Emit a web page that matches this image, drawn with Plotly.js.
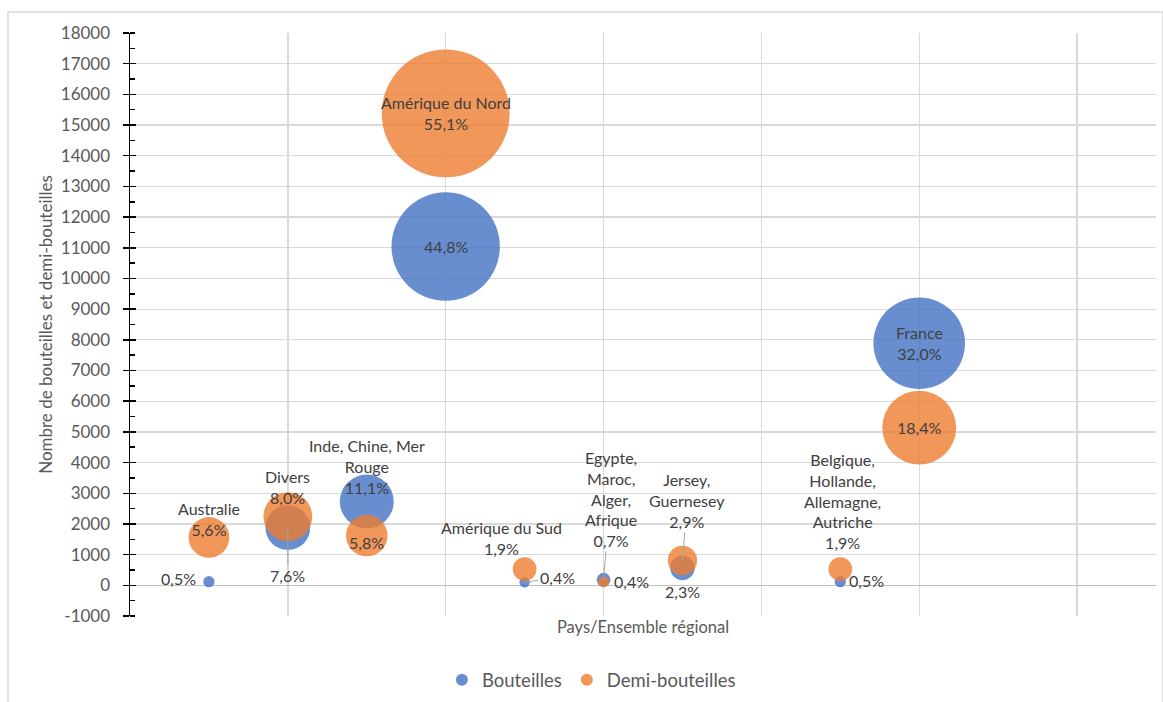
<!DOCTYPE html>
<html>
<head>
<meta charset="utf-8">
<script src="https://cdn.plot.ly/plotly-3.0.1.min.js"></script>
<style>html,body{margin:0;padding:0;background:#fff;}#chart{width:1163px;height:702px;}</style>
</head>
<body>
<div id="chart"></div>
<script>
// ---- data ----
var regions = ["Australie", "Divers", "Inde, Chine, Mer<br>Rouge", "Amérique du Nord", "Amérique du Sud",
               "Egypte,<br>Maroc,<br>Alger,<br>Afrique", "Jersey,<br>Guernesey",
               "Belgique,<br>Hollande,<br>Allemagne,<br>Autriche", "France"];
var xPos = [1, 2, 3, 4, 5, 6, 7, 9, 10];
var bouteilles = [120, 1880, 2730, 11040, 100, 180, 570, 120, 7890];
var demiBouteilles = [1560, 2240, 1620, 15380, 530, 110, 810, 530, 5140];
var pctBouteilles = ["0,5%", "7,6%", "11,1%", "44,8%", "0,4%", "0,7%", "2,3%", "0,5%", "32,0%"];
var pctDemi = ["5,6%", "8,0%", "5,8%", "55,1%", "1,9%", "0,4%", "2,9%", "1,9%", "18,4%"];
var yTicks = [-1000, 0, 1000, 2000, 3000, 4000, 5000, 6000, 7000, 8000, 9000, 10000,
              11000, 12000, 13000, 14000, 15000, 16000, 17000, 18000];
var yTickText = ["-1000", "0", "1000", "2000", "3000", "4000", "5000", "6000", "7000", "8000", "9000", "10000",
                 "11000", "12000", "13000", "14000", "15000", "16000", "17000", "18000"];

// ---- label placement (pixel offsets), kept apart from the data ----
var labB = [
  {name:false, ax:-30, ay:-3},
  {name:false, ax:0, ay:48, lead:true},
  {name:true, ax:0, ay:-35},
  {name:false, ax:0, ay:0},
  {name:false, ax:33, ay:-5, lead:true},
  {name:true, ax:7, ay:-81, lead:true},
  {name:false, ax:0, ay:24},
  {name:false, ax:26, ay:-1},
  {name:true, ax:0, ay:0}
];
var labD = [
  {name:true, ax:0, ay:-18},
  {name:true, ax:0, ay:-30},
  {name:false, ax:0, ay:7},
  {name:true, ax:0, ay:0},
  {name:true, ax:-23, ay:-31},
  {name:false, ax:28, ay:0},
  {name:true, ax:5, ay:-60, lead:true},
  {name:true, ax:2, ay:-68},
  {name:false, ax:0, ay:0}
];

var FONT = "Lato, 'Open Sans', sans-serif";
var SIZEREF = 1.88;

var traces = [
  {type:'scatter', mode:'markers', name:'Bouteilles', x:xPos, y:bouteilles,
   marker:{size:bouteilles, sizemode:'area', sizeref:SIZEREF, color:'#4472C4', opacity:0.8, line:{width:0}},
   hoverinfo:'skip'},
  {type:'scatter', mode:'markers', name:'Demi-bouteilles', x:xPos, y:demiBouteilles,
   marker:{size:demiBouteilles, sizemode:'area', sizeref:SIZEREF, color:'#ED7D31', opacity:0.8, line:{width:0}},
   hoverinfo:'skip'},
  {type:'scatter', mode:'markers', x:[], y:[], yaxis:'y2', showlegend:false, hoverinfo:'skip'}
];

var annotations = [];
function addLabels(vals, pcts, cfg) {
  for (var i = 0; i < vals.length; i++) {
    var c = cfg[i];
    var txt = c.name ? regions[i] + '<br>' + pcts[i] : pcts[i];
    annotations.push({
      x: xPos[i], y: vals[i], xref:'x', yref:'y', text: txt,
      showarrow: true, ax: c.ax, ay: c.ay, axref:'pixel', ayref:'pixel',
      arrowhead: 0, arrowwidth: 1, standoff: 0,
      arrowcolor: c.lead ? '#a6a6a6' : 'rgba(0,0,0,0)',
      font:{family:FONT, size:16, color:'#404040'}, align:'center'
    });
  }
}
addLabels(bouteilles, pctBouteilles, labB);
addLabels(demiBouteilles, pctDemi, labD);

var layout = {
  width:1163, height:702,
  margin:{l:130, r:7, t:33, b:86, autoexpand:false},
  paper_bgcolor:'#ffffff', plot_bgcolor:'#ffffff',
  font:{family:FONT, color:'#595959'},
  showlegend:true,
  legend:{orientation:'h', x:0.304, xanchor:'left', y:-0.11, yanchor:'middle',
          font:{family:FONT, size:18.5, color:'#595959'}, itemsizing:'constant', bgcolor:'rgba(0,0,0,0)'},
  xaxis:{range:[0,13], tick0:0, dtick:2, showticklabels:false, ticks:'', automargin:false,
         showgrid:true, gridcolor:'#d9d9d9', gridwidth:1.3, zeroline:false, showline:false,
         title:{text:'Pays/Ensemble régional', font:{family:FONT, size:16.5, color:'#595959'}, standoff:5},
         fixedrange:true},
  yaxis:{range:[-1000,18000], tickvals:yTicks, ticktext:yTickText, ticks:'outside', ticklen:6, tickwidth:1.5, tickcolor:'#000',
         showline:true, linecolor:'#000', linewidth:1.5, automargin:false,
         showgrid:true, gridcolor:'#d9d9d9', gridwidth:1.3,
         zeroline:true, zerolinecolor:'#bfbfbf', zerolinewidth:1.5,
         minor:{dtick:500, tick0:0, ticks:'inside', ticklen:5, tickwidth:1.5, tickcolor:'#000', showgrid:false},
         tickfont:{family:FONT, size:17, color:'#595959'}, ticklabelstandoff:9,
         title:{text:'Nombre de bouteilles et demi-bouteilles', font:{family:FONT, size:17, color:'#595959'}, standoff:4},
         fixedrange:true},
  yaxis2:{overlaying:'y', side:'left', range:[-1000,18000], tickvals:yTicks, ticks:'inside', ticklen:6,
          tickwidth:1.5, tickcolor:'#000', showticklabels:false, showgrid:false, zeroline:false, showline:false,
          automargin:false, fixedrange:true},
  annotations: annotations,
  shapes:[{type:'rect', xref:'paper', yref:'paper', x0:-0.1189, x1:1.0068, y0:-0.2, y1:1.036,
           line:{color:'#d9d9d9', width:1.5}, fillcolor:'rgba(0,0,0,0)', layer:'below'}]
};

Plotly.newPlot('chart', traces, layout, {displayModeBar:false, staticPlot:true});
</script>
</body>
</html>
